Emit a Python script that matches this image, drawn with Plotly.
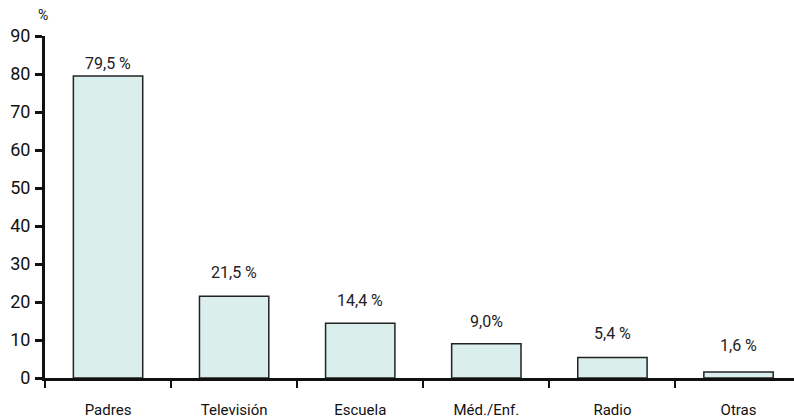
import plotly.graph_objects as go

categories = ["Padres", "Televisión", "Escuela", "Méd./Enf.", "Radio", "Otras"]
values = [79.5, 21.5, 14.4, 9.0, 5.4, 1.6]
value_labels = ["79,5 %", "21,5 %", "14,4 %", "9,0%", "5,4 %", "1,6 %"]
label_shift = [12, 24, 23, 22, 24, 26]
y_ticks = [0, 10, 20, 30, 40, 50, 60, 70, 80, 90]

FONT = "Roboto, Liberation Sans, Arial, sans-serif"

fig = go.Figure(go.Bar(
    x=categories, y=values, width=0.55,
    marker=dict(color="#daeeec", line=dict(color="#222222", width=1.5)),
    hoverinfo="skip",
))

for c, v, t, s in zip(categories, values, value_labels, label_shift):
    fig.add_annotation(x=c, y=v, text=t, showarrow=False, yanchor="middle",
                       yshift=s, font=dict(family=FONT, size=16, color="#222"))

fig.add_annotation(xref="paper", yref="paper", x=(43 - 45) / 749, y=(378 - 15) / 342,
                   xanchor="center", yanchor="middle", text="%", showarrow=False,
                   font=dict(family=FONT, size=14, color="#111"))

fig.update_layout(
    width=794, height=420,
    margin=dict(l=45, r=0, t=36, b=42),
    plot_bgcolor="white", paper_bgcolor="white",
    showlegend=False,
    font=dict(family=FONT, color="#111"),
    xaxis=dict(
        type="category", range=[-0.5, 5.44],
        showline=True, linecolor="#111", linewidth=3,
        ticks="outside", tickson="boundaries", ticklen=7, tickwidth=2, tickcolor="#111",
        ticklabelstandoff=16, tickfont=dict(family=FONT, size=15, color="#111"),
        showgrid=False, zeroline=False,
    ),
    yaxis=dict(
        range=[0, 90], tickvals=y_ticks,
        showline=True, linecolor="#111", linewidth=3,
        ticks="outside", ticklen=7, tickwidth=2.5, tickcolor="#111",
        ticklabelstandoff=1, tickfont=dict(family=FONT, size=18, color="#111"),
        showgrid=False, zeroline=False,
    ),
)

fig.write_html("out.html", config={"displayModeBar": False},
               post_script="document.body.style.margin='0px';")
